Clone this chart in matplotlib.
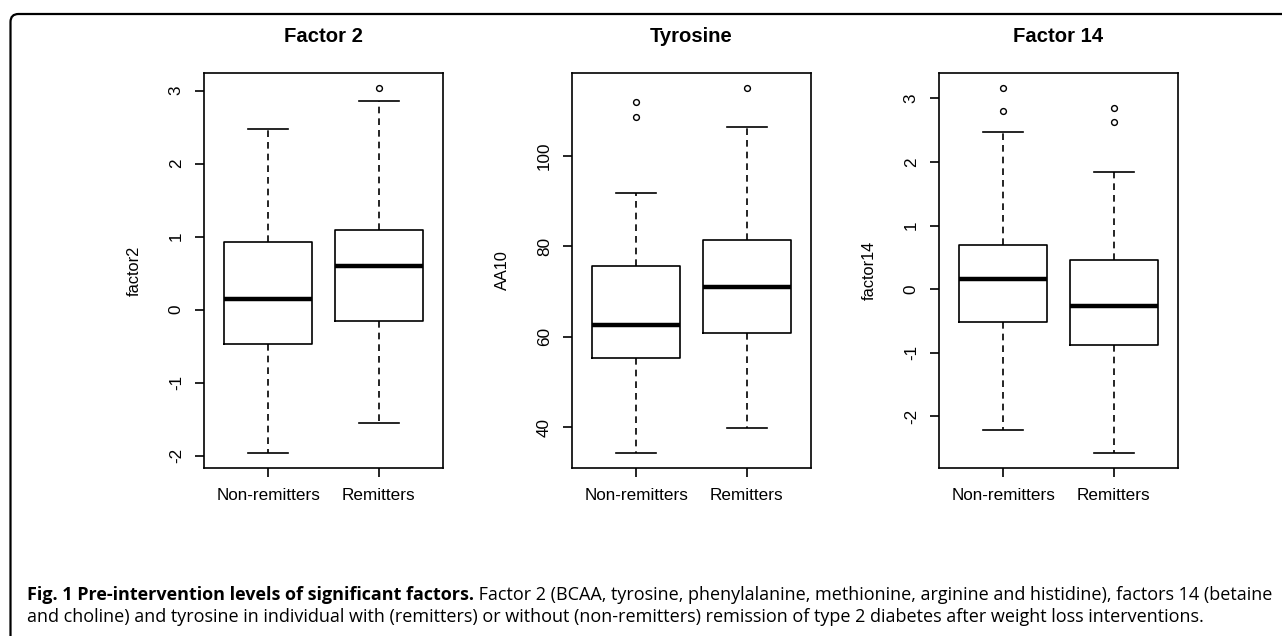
import numpy as np
import matplotlib
matplotlib.use("Agg")
import matplotlib.pyplot as plt
from matplotlib.patches import FancyBboxPatch
from matplotlib.ticker import FuncFormatter

plt.rcParams['font.family'] = ['Liberation Sans', 'DejaVu Sans']
plt.rcParams['axes.unicode_minus'] = False

groups = ["Non-remitters", "Remitters"]
titles = ["Factor 2", "Tyrosine", "Factor 14"]
ylabels = ["factor2", "AA10", "factor14"]
yticks = [[-2, -1, 0, 1, 2, 3], [40, 60, 80, 100], [-2, -1, 0, 1, 2, 3]]

# box statistics per panel: [non-remitters, remitters]
whislo = [[-1.97, -1.55], [34.2, 39.9], [-2.22, -2.58]]
q1 = [[-0.47, -0.16], [55.3, 60.8], [-0.51, -0.87]]
med = [[0.14, 0.59], [62.5, 71.0], [0.16, -0.26]]
q3 = [[0.93, 1.09], [75.5, 81.4], [0.69, 0.455]]
whishi = [[2.48, 2.86], [91.8, 106.2], [2.48, 1.84]]
fliers = [[[], [3.04]], [[111.9, 108.5], [115.0]], [[3.17, 2.81], [2.85, 2.63]]]

fig = plt.figure(figsize=(12.82, 6.36), dpi=100)
W, H = 1282.0, 636.0
lefts = [204, 572, 939]
lw = 1.2

for i in range(3):
    ax = fig.add_axes([lefts[i] / W, (H - 468) / H, 239 / W, 395 / H])
    stats = []
    for j in range(2):
        stats.append(dict(whislo=whislo[i][j], q1=q1[i][j], med=med[i][j], q3=q3[i][j],
                          whishi=whishi[i][j], fliers=fliers[i][j], label=groups[j]))
    ax.bxp(stats, positions=[1, 2], widths=0.8, capwidths=0.36,
           boxprops=dict(color="black", linewidth=lw),
           medianprops=dict(color="black", linewidth=3.2, solid_capstyle="butt"),
           whiskerprops=dict(color="black", linewidth=lw, linestyle=(0, (4, 3))),
           capprops=dict(color="black", linewidth=lw),
           flierprops=dict(marker="o", markersize=4.2, markerfacecolor="none",
                           markeredgecolor="black", markeredgewidth=1.0))
    allv = [v for j in range(2) for v in [whislo[i][j], whishi[i][j]] + list(fliers[i][j])]
    lo, hi = min(allv), max(allv)
    pad = (hi - lo) * 0.04
    ax.set_ylim(lo - pad, hi + pad)
    ax.set_xlim(0.42, 2.58)
    ax.set_yticks(yticks[i])
    ax.yaxis.set_major_formatter(FuncFormatter(lambda v, p: "%d" % v))
    ax.set_xticks([1, 2])
    ax.set_xticklabels(groups)
    for s in ax.spines.values():
        s.set_linewidth(lw)
    ax.tick_params(axis="both", length=6.5, width=lw, labelsize=12.3, pad=8)
    for t in ax.get_yticklabels():
        t.set_rotation(90)
        t.set_va("center")
    ax.set_ylabel(ylabels[i], fontsize=11.8)
    ax.yaxis.label.set_va("center")
    ax.yaxis.set_label_coords(-0.29, 0.5)
    fig.text((lefts[i] + 119.5) / W, (H - 36) / H, titles[i], fontsize=14.6,
             fontweight="bold", ha="center", va="center")

# outer frame, rounded at the top-left corner and running off the image
frame = FancyBboxPatch((0.105, -0.5), 14.0, 6.22 + 0.5,
                       boxstyle="round,pad=0,rounding_size=0.08",
                       transform=fig.dpi_scale_trans, fill=False,
                       edgecolor="black", linewidth=1.6)
fig.add_artist(frame)

bold_txt = "Fig. 1 Pre-intervention levels of significant factors."
line1 = " Factor 2 (BCAA, tyrosine, phenylalanine, methionine, arginine and histidine), factors 14 (betaine"
line2 = "and choline) and tyrosine in individual with (remitters) or without (non-remitters) remission of type 2 diabetes after weight loss interventions."

cfont = ["Open Sans", "DejaVu Sans"]
fs = 11.5
x0 = 27 / W
r = fig.canvas.get_renderer()
tb = fig.text(x0, (H - 600) / H, bold_txt, fontsize=fs, fontweight="bold", family=cfont)
tr = fig.text(x0, (H - 600) / H, line1, fontsize=fs, family=cfont)
wb = tb.get_window_extent(r).width
wr = tr.get_window_extent(r).width
fs = fs * (1250.0 / (wb + wr))
tb.set_fontsize(fs)
tr.set_fontsize(fs)
wb = tb.get_window_extent(r).width
tr.set_x(x0 + wb / W)
fig.text(x0, (H - 622) / H, line2, fontsize=fs, family=cfont)

fig.savefig("out.png", dpi=100)
